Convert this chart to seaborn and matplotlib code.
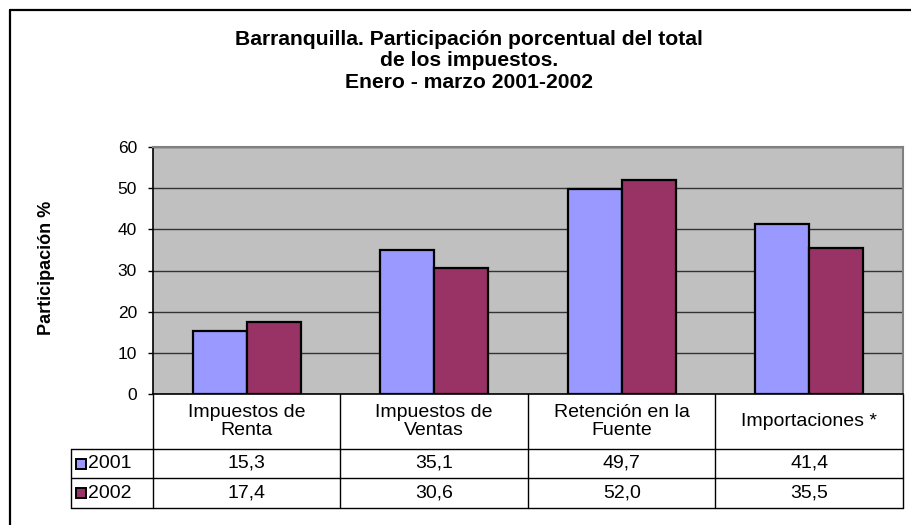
import matplotlib
matplotlib.use("Agg")
import matplotlib.pyplot as plt
import matplotlib.transforms as mtransforms
from matplotlib.lines import Line2D
from matplotlib.patches import Rectangle
import pandas as pd
import seaborn as sns

# data
categorias = ["Impuestos de Renta", "Impuestos de Ventas", "Retención en la Fuente", "Importaciones *"]
etiquetas_tabla = ["Impuestos de\nRenta", "Impuestos de\nVentas", "Retención en la\nFuente", "Importaciones *"]
anios = ["2001", "2002"]
valores_2001 = [15.3, 35.1, 49.7, 41.4]
valores_2002 = [17.4, 30.6, 52.0, 35.5]
colores = ["#9999FF", "#993366"]

titulo = ("Barranquilla. Participación porcentual del total\n"
          "de los impuestos.\n"
          "Enero - marzo 2001-2002")

df = pd.DataFrame({
    "categoria": categorias * 2,
    "anio": [anios[0]] * 4 + [anios[1]] * 4,
    "valor": valores_2001 + valores_2002,
})

sns.set_style("white")
plt.rcParams["font.family"] = ["Liberation Sans", "DejaVu Sans"]
plt.rcParams["text.color"] = "black"

W, H = 912, 525
fig = plt.figure(figsize=(W / 100, H / 100), dpi=100)
fx = lambda px: px / W
fy = lambda px: 1 - px / H

ax = fig.add_axes([fx(153), fy(394), fx(903) - fx(153), fy(147) - fy(394)])
ax.set_facecolor("#C0C0C0")

sns.barplot(data=df, x="categoria", y="valor", hue="anio", palette=colores,
            width=0.576, edgecolor="black", linewidth=1.6, saturation=1,
            legend=False, ax=ax)

ax.set_xlim(-0.5, 3.5)
ax.set_ylim(0, 60)
ax.set_yticks(range(0, 61, 10))
ax.set_xlabel("")
ax.set_ylabel("")
ax.tick_params(axis="x", bottom=False, labelbottom=False)
ax.tick_params(axis="y", left=True, direction="out", length=3.6, width=1,
               color="black", pad=8, labelsize=12.5, labelcolor="black")
ax.yaxis.grid(True, color="#333333", linewidth=1)
ax.set_axisbelow(True)
for s in ["top", "right"]:
    ax.spines[s].set_color("#808080")
    ax.spines[s].set_linewidth(1.5)
for s in ["left", "bottom"]:
    ax.spines[s].set_color("black")
    ax.spines[s].set_linewidth(1.2)

# outer chart frame (cut by the image edge)
fig.add_artist(Line2D([fx(10), fx(10)], [fy(10), 0], color="black", lw=1.6, transform=fig.transFigure))
fig.add_artist(Line2D([fx(10), 1], [fy(10), fy(10)], color="black", lw=1.6, transform=fig.transFigure))

# title and y label
fig.text(fx(469), fy(61), titulo, ha="center", va="center", fontsize=15.2,
         fontweight="bold", linespacing=1.17, color="black")
fig.text(fx(47), fy(268), "Participación %", ha="center", va="center",
         rotation=90, fontsize=13, fontweight="bold", color="black")

# data table below the plot
trD = mtransforms.blended_transform_factory(ax.transData, fig.transFigure)
trA = mtransforms.blended_transform_factory(ax.transAxes, fig.transFigure)
x_leg = (71 - 153) / 750
fila_sup, fila_1, fila_2, fila_fin = 394, 449, 478, 508

for i in range(len(categorias) + 1):
    ax.add_artist(Line2D([i - 0.5, i - 0.5], [fy(fila_sup), fy(fila_fin)], color="black",
                         lw=1, transform=trD, clip_on=False))
ax.add_artist(Line2D([x_leg, x_leg], [fy(fila_1), fy(fila_fin)], color="black",
                     lw=1, transform=trA, clip_on=False))
for y in [fila_1, fila_2, fila_fin]:
    ax.add_artist(Line2D([x_leg, 1], [fy(y), fy(y)], color="black", lw=1,
                         transform=trA, clip_on=False))

for i, lab in enumerate(etiquetas_tabla):
    ax.text(i, fy((fila_sup + fila_1) / 2), lab, ha="center", va="center",
            fontsize=14, linespacing=1.08, transform=trD, color="black")

filas = [(anios[0], valores_2001, fila_1, fila_2, colores[0]),
         (anios[1], valores_2002, fila_2, fila_fin, colores[1])]
for anio, vals, y0, y1, col in filas:
    yc = (y0 + y1) / 2
    for i, v in enumerate(vals):
        ax.text(i, fy(yc), f"{v:.1f}".replace(".", ","), ha="center", va="center",
                fontsize=14, transform=trD, color="black")
    fig.add_artist(Rectangle((fx(76), fy(yc + 5)), fx(10), 10 / H, facecolor=col,
                             edgecolor="black", lw=1.4, transform=fig.transFigure))
    fig.text(fx(88), fy(yc), anio, ha="left", va="center", fontsize=14, color="black")

fig.savefig("out.png", dpi=100, facecolor="white")
